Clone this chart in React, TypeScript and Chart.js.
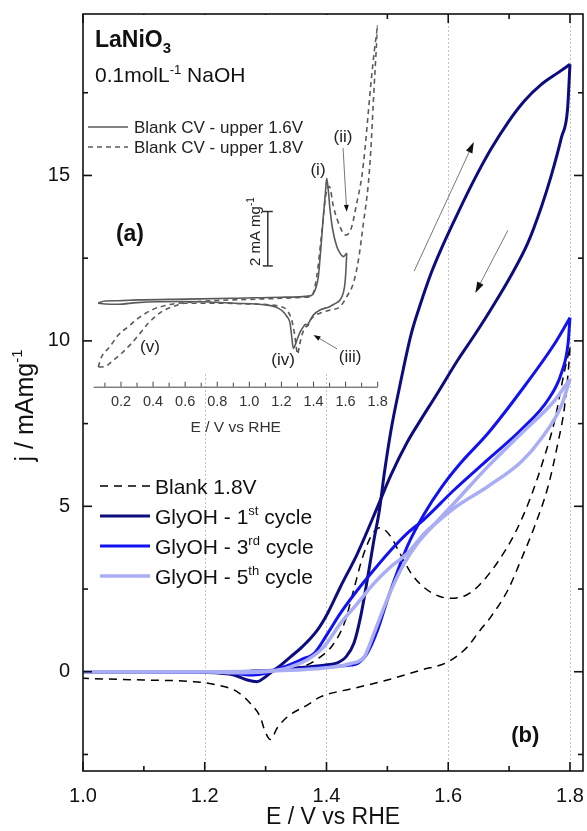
import React, { useEffect, useRef } from 'react';
import { Chart, registerables } from 'chart.js';

Chart.register(...registerables);

const FONT = '"Liberation Sans", Arial, Helvetica, sans-serif';

// ---------------- Main panel (b) ----------------
const xTickValues = [1.0, 1.2, 1.4, 1.6, 1.8];
const xMinorValues = [1.1, 1.3, 1.5, 1.7];
const yTickValues = [0, 5, 10, 15];
const yMinorValues = [-2.5, 2.5, 7.5, 12.5, 17.5];
const xGridValues = [1.2, 1.4, 1.6, 1.8];

// Blank 1.8V (dashed)
const blankFwdE = [1.0, 1.1, 1.2, 1.3, 1.36, 1.39, 1.41, 1.43, 1.445, 1.46, 1.475, 1.488, 1.505, 1.52, 1.54, 1.56, 1.585, 1.605, 1.63, 1.65, 1.68, 1.71, 1.736, 1.758, 1.775, 1.79, 1.8];
const blankFwdJ = [0.0, 0.0, 0.02, 0.05, 0.15, 0.45, 0.8, 1.5, 2.5, 3.5, 4.15, 4.35, 4.1, 3.6, 2.95, 2.55, 2.28, 2.22, 2.32, 2.6, 3.28, 4.2, 5.3, 6.5, 7.6, 9.0, 9.8];
const blankRevE = [1.8, 1.799, 1.791, 1.78, 1.764, 1.742, 1.72, 1.698, 1.67, 1.65, 1.632, 1.6, 1.555, 1.5, 1.445, 1.39, 1.369, 1.336, 1.319, 1.308, 1.298, 1.292, 1.275, 1.253, 1.22, 1.182, 1.1, 1.0];
const blankRevJ = [9.8, 9.5, 8.0, 6.9, 5.6, 4.4, 3.4, 2.47, 1.66, 1.2, 0.76, 0.3, 0.05, -0.25, -0.5, -0.76, -1.0, -1.36, -1.7, -2.05, -1.75, -1.4, -0.96, -0.6, -0.4, -0.3, -0.25, -0.2];

// GlyOH - 1st cycle
const c1FwdE = [1.0, 1.1, 1.2, 1.3, 1.34, 1.396, 1.415, 1.432, 1.445, 1.456, 1.467, 1.478, 1.487, 1.495, 1.506, 1.52, 1.539, 1.555, 1.572, 1.588, 1.616, 1.643, 1.67, 1.698, 1.725, 1.753, 1.78, 1.8];
const c1FwdJ = [0.0, 0.0, 0.0, 0.03, 0.1, 0.2, 0.25, 0.45, 0.86, 1.66, 2.78, 3.99, 4.89, 6.0, 7.3, 8.6, 10.2, 11.15, 12.05, 12.76, 13.87, 14.88, 15.79, 16.6, 17.25, 17.75, 18.1, 18.36];
const c1RevE = [1.8, 1.796, 1.786, 1.769, 1.753, 1.731, 1.703, 1.67, 1.643, 1.616, 1.58, 1.555, 1.533, 1.506, 1.484, 1.451, 1.423, 1.402, 1.385, 1.36, 1.341, 1.325, 1.314, 1.3, 1.286, 1.27, 1.248, 1.2, 1.1, 1.0];
const c1RevJ = [18.36, 17.0, 16.15, 14.98, 14.05, 12.97, 11.97, 10.95, 10.17, 9.43, 8.35, 7.62, 6.95, 5.95, 4.99, 3.58, 2.57, 1.77, 1.26, 0.75, 0.45, 0.2, 0.05, -0.15, -0.3, -0.25, -0.1, -0.02, 0.0, 0.0];

// GlyOH - 3rd cycle
const c3FwdE = [1.0, 1.1, 1.2, 1.3, 1.4, 1.44, 1.451, 1.467, 1.484, 1.5, 1.517, 1.533, 1.56, 1.59, 1.62, 1.665, 1.72, 1.775, 1.8];
const c3FwdJ = [0.0, 0.0, 0.0, 0.02, 0.15, 0.2, 0.25, 0.56, 1.26, 2.17, 3.05, 3.8, 4.75, 5.6, 6.3, 7.2, 8.5, 9.92, 10.7];
const c3RevE = [1.8, 1.797, 1.786, 1.764, 1.72, 1.665, 1.61, 1.56, 1.533, 1.506, 1.478, 1.451, 1.423, 1.402, 1.38, 1.36, 1.341, 1.32, 1.3, 1.28, 1.25, 1.2, 1.1, 1.0];
const c3RevJ = [10.7, 9.94, 9.03, 8.22, 7.32, 6.41, 5.5, 4.6, 4.19, 3.68, 3.08, 2.47, 1.77, 1.16, 0.56, 0.38, 0.22, 0.08, -0.05, -0.1, -0.05, 0.0, 0.0, 0.0];

// GlyOH - 5th cycle
const c5FwdE = [1.0, 1.1, 1.2, 1.3, 1.4, 1.44, 1.462, 1.478, 1.495, 1.511, 1.528, 1.55, 1.577, 1.61, 1.665, 1.72, 1.775, 1.8];
const c5FwdJ = [0.0, 0.0, 0.0, 0.02, 0.12, 0.25, 0.45, 1.16, 1.97, 2.67, 3.28, 3.89, 4.45, 5.1, 6.2, 7.2, 8.2, 8.85];
const c5RevE = [1.8, 1.786, 1.753, 1.72, 1.665, 1.61, 1.577, 1.561, 1.533, 1.506, 1.478, 1.451, 1.423, 1.396, 1.37, 1.341, 1.32, 1.3, 1.25, 1.2, 1.0];
const c5RevJ = [8.85, 8.05, 7.05, 6.35, 5.6, 4.95, 4.45, 4.19, 3.58, 3.18, 2.67, 2.07, 1.46, 0.76, 0.38, 0.15, 0.05, 0.0, -0.03, 0.0, 0.0];

// ---------------- Inset (a) ----------------
const insetTickValues = [0.2, 0.4, 0.6, 0.8, 1.0, 1.2, 1.4, 1.6, 1.8];
const insetMinorValues = [0.1, 0.3, 0.5, 0.7, 0.9, 1.1, 1.3, 1.5, 1.7];

// Blank CV - upper 1.6V (solid)
const solidFwdE = [0.058, 0.1, 0.183, 0.3, 0.6, 0.9, 1.2, 1.38, 1.4, 1.415, 1.43, 1.445, 1.461, 1.474, 1.482, 1.492, 1.503, 1.52, 1.545, 1.565, 1.586, 1.607];
const solidFwdJ = [-0.12, -0.04, -0.03, 0.0, 0.03, 0.06, 0.1, 0.15, 0.25, 0.45, 0.86, 1.84, 3.06, 3.92, 4.47, 4.04, 3.31, 2.57, 1.96, 1.72, 1.59, 1.72];
const solidRevE = [1.607, 1.603, 1.596, 1.585, 1.565, 1.53, 1.5, 1.44, 1.4, 1.385, 1.37, 1.36, 1.35, 1.335, 1.315, 1.295, 1.283, 1.274, 1.265, 1.254, 1.233, 1.22, 1.18, 1.1, 0.91, 0.6, 0.3, 0.183, 0.1, 0.058];
const solidRevJ = [1.72, 1.2, 0.61, 0.25, 0.0, -0.15, -0.25, -0.37, -0.55, -0.68, -0.85, -0.92, -0.9, -1.0, -1.2, -1.5, -1.7, -1.78, -1.4, -0.86, -0.6, -0.49, -0.3, -0.18, -0.12, -0.06, -0.1, -0.16, -0.15, -0.12];

// Blank CV - upper 1.8V (dashed)
const dashFwdE = [0.058, 0.08, 0.131, 0.183, 0.246, 0.308, 0.391, 0.495, 0.6, 0.8, 1.0, 1.2, 1.35, 1.39, 1.42, 1.451, 1.482, 1.499, 1.524, 1.565, 1.596, 1.61, 1.638, 1.669, 1.7, 1.72, 1.74, 1.76, 1.78, 1.8];
const dashFwdJ = [-2.47, -2.08, -1.72, -1.29, -0.98, -0.67, -0.37, -0.18, -0.1, -0.02, 0.02, 0.06, 0.1, 0.15, 0.86, 2.45, 4.04, 4.17, 3.43, 2.69, 2.39, 2.4, 2.69, 3.55, 4.5, 5.5, 6.8, 8.1, 9.2, 10.1];
const dashRevE = [1.8, 1.785, 1.773, 1.757, 1.742, 1.711, 1.68, 1.648, 1.607, 1.565, 1.503, 1.44, 1.4, 1.38, 1.365, 1.35, 1.33, 1.315, 1.3, 1.292, 1.283, 1.264, 1.233, 1.2, 1.0, 0.8, 0.6, 0.557, 0.454, 0.37, 0.318, 0.267, 0.204, 0.142, 0.1, 0.058];
const dashRevJ = [10.1, 8.6, 7.3, 5.5, 4.3, 2.82, 1.47, 0.61, 0.12, -0.25, -0.37, -0.49, -0.61, -0.75, -0.95, -1.0, -1.25, -1.6, -2.0, -1.7, -1.3, -0.74, -0.37, -0.25, -0.15, -0.12, -0.12, -0.18, -0.43, -0.86, -1.23, -1.59, -1.96, -2.27, -2.45, -2.47];

// ---------------- styling ----------------
const C1 = '#0c0c7e';
const C3 = '#1212f0';
const C5 = '#a9adf3';
const GRAYLINE = '#5a5a5a';

const pts = (E: number[], J: number[]) => E.map((e, i) => ({ x: e, y: J[i] }));

type Part = { t: string; size: number; bold?: boolean; dy?: number };
const fontOf = (p: Part) => `${p.bold ? 'bold ' : ''}${p.size}px ${FONT}`;
function drawRich(ctx: CanvasRenderingContext2D, parts: Part[], x: number, y: number, align: 'left' | 'center') {
  let w = 0;
  for (const p of parts) { ctx.font = fontOf(p); w += ctx.measureText(p.t).width; }
  let cx = align === 'center' ? x - w / 2 : x;
  ctx.textAlign = 'left';
  ctx.textBaseline = 'alphabetic';
  for (const p of parts) {
    ctx.font = fontOf(p);
    ctx.fillText(p.t, cx, y + (p.dy || 0));
    cx += ctx.measureText(p.t).width;
  }
}
function arrow(ctx: CanvasRenderingContext2D, x1: number, y1: number, x2: number, y2: number, hl: number, hw: number) {
  const ang = Math.atan2(y2 - y1, x2 - x1);
  const bx = x2 - hl * Math.cos(ang), by = y2 - hl * Math.sin(ang);
  ctx.save();
  ctx.strokeStyle = '#777'; ctx.lineWidth = 1; ctx.setLineDash([]);
  ctx.beginPath(); ctx.moveTo(x1, y1); ctx.lineTo(bx, by); ctx.stroke();
  ctx.fillStyle = '#111';
  ctx.beginPath();
  ctx.moveTo(x2, y2);
  ctx.lineTo(bx + (hw / 2) * Math.sin(ang), by - (hw / 2) * Math.cos(ang));
  ctx.lineTo(bx - (hw / 2) * Math.sin(ang), by + (hw / 2) * Math.cos(ang));
  ctx.closePath(); ctx.fill();
  ctx.restore();
}

const lineDs = (data: any[], color: string, width: number, dash: number[] = [], order = 0) => ({
  data, showLine: true, borderColor: color, backgroundColor: color, borderWidth: width,
  borderDash: dash, pointRadius: 0, cubicInterpolationMode: 'monotone', fill: false, order,
  borderJoinStyle: 'round', borderCapStyle: 'butt',
});

const mainPlugin = {
  id: 'mainDecor',
  beforeDraw(chart: any) {
    const { ctx, width, height } = chart;
    ctx.save(); ctx.fillStyle = '#fff'; ctx.fillRect(0, 0, width, height); ctx.restore();
  },
  beforeDatasetsDraw(chart: any) {
    const { ctx, chartArea: a, scales: { x } } = chart;
    ctx.save();
    ctx.strokeStyle = '#c4c4c4'; ctx.lineWidth = 1; ctx.setLineDash([2, 2]);
    for (const v of xGridValues) {
      const px = Math.round(x.getPixelForValue(v)) + 0.5;
      ctx.beginPath(); ctx.moveTo(px, a.top); ctx.lineTo(px, a.bottom); ctx.stroke();
    }
    ctx.restore();
  },
  afterDatasetsDraw(chart: any) {
    const { ctx, chartArea: a, scales: { x, y } } = chart;
    ctx.save();
    ctx.strokeStyle = '#111'; ctx.lineWidth = 1.6; ctx.setLineDash([]);
    ctx.strokeRect(a.left, a.top, a.right - a.left, a.bottom - a.top);
    const seg = (x1: number, y1: number, x2: number, y2: number) => { ctx.beginPath(); ctx.moveTo(x1, y1); ctx.lineTo(x2, y2); ctx.stroke(); };
    for (const v of xTickValues) { const p = x.getPixelForValue(v); seg(p, a.bottom, p, a.bottom - 9); seg(p, a.top, p, a.top + 9); }
    for (const v of xMinorValues) { const p = x.getPixelForValue(v); seg(p, a.bottom, p, a.bottom - 5); seg(p, a.top, p, a.top + 5); }
    for (const v of yTickValues) { const p = y.getPixelForValue(v); seg(a.left, p, a.left + 9, p); seg(a.right, p, a.right - 9, p); }
    for (const v of yMinorValues) { const p = y.getPixelForValue(v); seg(a.left, p, a.left + 5, p); seg(a.right, p, a.right - 5, p); }
    // scan direction arrows
    arrow(ctx, x.getPixelForValue(1.544), y.getPixelForValue(12.11), x.getPixelForValue(1.642), y.getPixelForValue(16.01), 11, 7);
    arrow(ctx, x.getPixelForValue(1.698), y.getPixelForValue(13.34), x.getPixelForValue(1.6445), y.getPixelForValue(11.45), 11, 7);
    // (b)
    ctx.fillStyle = '#111';
    ctx.font = `bold 22px ${FONT}`; ctx.textAlign = 'center'; ctx.textBaseline = 'middle';
    ctx.fillText('(b)', x.getPixelForValue(1.7266), y.getPixelForValue(-1.95));
    ctx.restore();
  },
  afterDraw(chart: any) {
    const { ctx, chartArea: a } = chart;
    ctx.save();
    ctx.fillStyle = '#111';
    // y axis title
    ctx.save();
    ctx.translate(33, (a.top + a.bottom) / 2 + 13);
    ctx.rotate(-Math.PI / 2);
    drawRich(ctx, [{ t: 'j / mAmg', size: 25 }, { t: '-1', size: 15, dy: -11 }], 0, 0, 'center');
    ctx.restore();
    // legend
    const items = [
      { parts: [{ t: 'Blank 1.8V', size: 21 }], color: '#000', w: 1.5, dash: [8, 6] },
      { parts: [{ t: 'GlyOH - 1', size: 21 }, { t: 'st', size: 13, dy: -9 }, { t: ' cycle', size: 21 }], color: C1, w: 3, dash: [] },
      { parts: [{ t: 'GlyOH - 3', size: 21 }, { t: 'rd', size: 13, dy: -9 }, { t: ' cycle', size: 21 }], color: C3, w: 3, dash: [] },
      { parts: [{ t: 'GlyOH - 5', size: 21 }, { t: 'th', size: 13, dy: -9 }, { t: ' cycle', size: 21 }], color: C5, w: 3.5, dash: [] },
    ];
    items.forEach((it, i) => {
      const ry = 486 + i * 30;
      ctx.save();
      ctx.strokeStyle = it.color; ctx.lineWidth = it.w; ctx.setLineDash(it.dash);
      ctx.beginPath(); ctx.moveTo(100, ry); ctx.lineTo(150, ry); ctx.stroke();
      ctx.restore();
      ctx.fillStyle = '#111';
      drawRich(ctx, it.parts as Part[], 155, ry + 7.5, 'left');
    });
    ctx.restore();
  },
};

const insetPlugin = {
  id: 'insetDecor',
  beforeDraw(chart: any) {
    const { ctx } = chart;
    ctx.save(); ctx.fillStyle = '#fff'; ctx.fillRect(92, 15, 294, 358); ctx.restore();
  },
  afterDatasetsDraw(chart: any) {
    const { ctx, chartArea: a, scales: { x, y } } = chart;
    ctx.save();
    ctx.strokeStyle = '#444'; ctx.lineWidth = 1; ctx.setLineDash([]);
    const seg = (x1: number, y1: number, x2: number, y2: number) => { ctx.beginPath(); ctx.moveTo(x1, y1); ctx.lineTo(x2, y2); ctx.stroke(); };
    seg(a.left, a.bottom + 0.5, a.right, a.bottom + 0.5);
    for (const v of insetTickValues) { const p = x.getPixelForValue(v); seg(p, a.bottom, p, a.bottom - 5); }
    for (const v of insetMinorValues) { const p = x.getPixelForValue(v); seg(p, a.bottom, p, a.bottom - 4); }
    // scale bar 2 mA mg-1
    const sbx = x.getPixelForValue(1.115);
    const sbTop = y.getPixelForValue(3.25), sbBot = y.getPixelForValue(1.25);
    ctx.strokeStyle = '#333'; ctx.lineWidth = 1.5;
    seg(sbx, sbTop, sbx, sbBot); seg(sbx - 5, sbTop, sbx + 5, sbTop); seg(sbx - 5, sbBot, sbx + 5, sbBot);
    ctx.fillStyle = '#222';
    ctx.save();
    ctx.translate(x.getPixelForValue(1.0666), y.getPixelForValue(2.51));
    ctx.rotate(-Math.PI / 2);
    drawRich(ctx, [{ t: '2 mA mg', size: 15 }, { t: '-1', size: 10, dy: -6 }], 0, 0, 'center');
    ctx.restore();
    // peak labels
    ctx.font = `17px ${FONT}`; ctx.textAlign = 'center'; ctx.textBaseline = 'middle';
    const labs: [string, number, number][] = [['(i)', 1.428, 4.78], ['(ii)', 1.584, 5.99], ['(iii)', 1.628, -2.1], ['(iv)', 1.21, -2.21], ['(v)', 0.381, -1.76]];
    for (const [t, ex, jy] of labs) ctx.fillText(t, x.getPixelForValue(ex), y.getPixelForValue(jy));
    arrow(ctx, x.getPixelForValue(1.584), y.getPixelForValue(5.59), x.getPixelForValue(1.607), y.getPixelForValue(3.24), 7, 5);
    arrow(ctx, x.getPixelForValue(1.547), y.getPixelForValue(-1.8), x.getPixelForValue(1.4), y.getPixelForValue(-1.29), 7, 5);
    // (a)
    ctx.fillStyle = '#111';
    ctx.font = `bold 23px ${FONT}`; ctx.textAlign = 'center'; ctx.textBaseline = 'middle';
    ctx.fillText('(a)', x.getPixelForValue(0.256), y.getPixelForValue(2.39));
    // inset legend
    const rows = [{ t: 'Blank CV - upper 1.6V', dash: [] as number[] }, { t: 'Blank CV - upper 1.8V', dash: [5, 4] }];
    rows.forEach((r, i) => {
      const ry = 127 + i * 20;
      ctx.save();
      ctx.strokeStyle = GRAYLINE; ctx.lineWidth = 1.5; ctx.setLineDash(r.dash);
      seg(88, ry, 128, ry);
      ctx.restore();
      ctx.fillStyle = '#222';
      drawRich(ctx, [{ t: r.t, size: 17 }], 134, ry + 6, 'left');
    });
    // sample label
    ctx.fillStyle = '#111';
    drawRich(ctx, [{ t: 'LaNiO', size: 23, bold: true }, { t: '3', size: 15, bold: true, dy: 6 }], 95, 47, 'left');
    drawRich(ctx, [{ t: '0.1molL', size: 21 }, { t: '-1', size: 13, dy: -8 }, { t: ' NaOH', size: 21 }], 95, 82, 'left');
    ctx.restore();
  },
};

export default function App() {
  const mainRef = useRef<HTMLCanvasElement | null>(null);
  const insetRef = useRef<HTMLCanvasElement | null>(null);

  useEffect(() => {
    document.body.style.margin = '0';
    const main = new Chart(mainRef.current as HTMLCanvasElement, {
      type: 'scatter',
      data: {
        datasets: [
          lineDs(pts(c5FwdE, c5FwdJ), C5, 3.5, [], 0),
          lineDs(pts(c5RevE, c5RevJ), C5, 3.5, [], 0),
          lineDs(pts(c3FwdE, c3FwdJ), C3, 3, [], 1),
          lineDs(pts(c3RevE, c3RevJ), C3, 3, [], 1),
          lineDs(pts(c1FwdE, c1FwdJ), C1, 3, [], 2),
          lineDs(pts(c1RevE, c1RevJ), C1, 3, [], 2),
          lineDs(pts(blankFwdE, blankFwdJ), '#000', 1.5, [8, 6], 3),
          lineDs(pts(blankRevE, blankRevJ), '#000', 1.5, [8, 6], 3),
        ] as any,
      },
      options: {
        animation: false,
        responsive: false,
        devicePixelRatio: 1,
        events: [],
        layout: { padding: { left: 0, right: 4, top: 14, bottom: 0 } },
        plugins: { legend: { display: false }, tooltip: { enabled: false } },
        scales: {
          x: {
            type: 'linear', position: 'bottom', min: 1.0, max: 1.8214,
            afterBuildTicks: (s: any) => { s.ticks = xTickValues.map((v) => ({ value: v })); },
            afterFit: (s: any) => { s.height = 60; s.paddingLeft = 0; s.paddingRight = 0; },
            grid: { display: false, drawTicks: false }, border: { display: false },
            ticks: { autoSkip: false, maxRotation: 0, padding: 13, color: '#111', font: { family: FONT, size: 20 }, callback: (v: any) => Number(v).toFixed(1) },
            title: { display: true, text: 'E / V vs RHE', color: '#111', font: { family: FONT, size: 23 }, padding: { top: 0, bottom: 0 } },
          },
          y: {
            type: 'linear', position: 'left', min: -3, max: 19.88,
            afterBuildTicks: (s: any) => { s.ticks = yTickValues.map((v) => ({ value: v })); },
            afterFit: (s: any) => { s.width = 83; s.paddingTop = 0; s.paddingBottom = 0; },
            grid: { display: false, drawTicks: false }, border: { display: false },
            ticks: { autoSkip: false, padding: 13, color: '#111', font: { family: FONT, size: 20 }, callback: (v: any) => String(v) },
          },
        },
      } as any,
      plugins: [mainPlugin],
    });

    const inset = new Chart(insetRef.current as HTMLCanvasElement, {
      type: 'scatter',
      data: {
        datasets: [
          lineDs(pts(solidFwdE, solidFwdJ), GRAYLINE, 1.6, [], 0),
          lineDs(pts(solidRevE, solidRevJ), GRAYLINE, 1.6, [], 0),
          lineDs(pts(dashFwdE, dashFwdJ), GRAYLINE, 1.6, [5, 4], 1),
          lineDs(pts(dashRevE, dashRevJ), GRAYLINE, 1.6, [5, 4], 1),
        ] as any,
      },
      options: {
        animation: false,
        responsive: false,
        devicePixelRatio: 1,
        events: [],
        layout: { padding: { left: 93.7, right: 22.3, top: 20, bottom: 0 } },
        plugins: { legend: { display: false }, tooltip: { enabled: false } },
        scales: {
          x: {
            type: 'linear', position: 'bottom', min: 0.03, max: 1.8,
            afterBuildTicks: (s: any) => { s.ticks = insetTickValues.map((v) => ({ value: v })); },
            afterFit: (s: any) => { s.height = 63.3; s.paddingLeft = 0; s.paddingRight = 0; },
            grid: { display: false, drawTicks: false }, border: { display: false },
            ticks: { autoSkip: false, maxRotation: 0, padding: 7, color: '#333', font: { family: FONT, size: 14.5 }, callback: (v: any) => Number(v).toFixed(1) },
            title: { display: true, text: 'E / V vs RHE', color: '#333', font: { family: FONT, size: 15.5 }, padding: { top: 0, bottom: 12.5 } },
          },
          y: { type: 'linear', display: false, min: -3.19, max: 10.29 },
        },
      } as any,
      plugins: [insetPlugin],
    });

    return () => { main.destroy(); inset.destroy(); };
  }, []);

  return (
    <div style={{ position: 'relative', width: 587, height: 831, overflow: 'hidden' }}>
      <canvas ref={mainRef} width={587} height={831} style={{ position: 'absolute', left: 0, top: 0 }} />
      <canvas ref={insetRef} width={400} height={450} style={{ position: 'absolute', left: 0, top: 0 }} />
    </div>
  );
}
